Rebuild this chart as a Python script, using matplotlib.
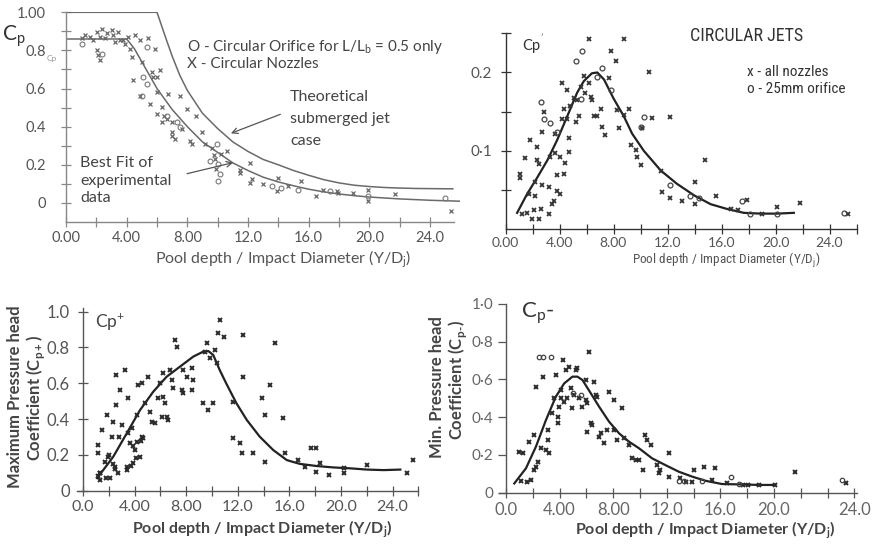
import matplotlib
matplotlib.use("Agg")
import matplotlib.pyplot as plt
from matplotlib import font_manager as fm
from matplotlib.ticker import FixedLocator, FixedFormatter

plt.rcParams['font.family'] = ['Lato', 'DejaVu Sans']
plt.rcParams['mathtext.fontset'] = 'custom'
plt.rcParams['mathtext.rm'] = 'Lato'

_available = {f.name for f in fm.fontManager.ttflist}
NARROW = next((n for n in ['Liberation Sans Narrow', 'Roboto Condensed'] if n in _available), 'Roboto')

W, H = 876, 548

# ---------------- Panel 1: mean pressure coefficient Cp ----------------
theory_x = [0, 6.0, 6.3, 6.6, 7.0, 7.5, 8, 9, 10, 11, 12, 13, 14, 15, 16, 17, 18, 19, 20,
            21, 22, 23, 24, 25.5]
theory_y = [1.0, 1.0, 0.93, 0.86, 0.77, 0.67, 0.59, 0.47, 0.39, 0.32, 0.27, 0.228, 0.2,
            0.17, 0.145, 0.122, 0.105, 0.093, 0.086, 0.081, 0.078, 0.076, 0.075, 0.074]
bestfit_x = [0, 4.0, 4.5, 5, 5.5, 6, 7, 8, 9, 10, 11, 12, 13, 14, 15, 16, 17, 18, 19, 20,
             22, 24, 26]
bestfit_y = [0.86, 0.86, 0.81, 0.74, 0.67, 0.60, 0.49, 0.40, 0.32, 0.265, 0.21, 0.17, 0.135,
             0.11, 0.09, 0.072, 0.058, 0.047, 0.038, 0.031, 0.021, 0.014, 0.009]
cp_nozzle_x = [1.03, 1.25, 1.58, 1.80, 2.02, 2.24, 2.35, 2.57, 2.68, 3.01,
               3.12, 3.23, 3.45, 3.56, 3.78, 3.89, 4.11, 4.22, 4.33, 4.55,
               4.88, 5.43, 5.87, 2.02, 2.13, 2.24,
               4.44, 4.88, 4.99, 5.65, 5.76, 6.0, 6.2, 5.54, 5.98, 6.75,
               7.5, 5.98, 6.3, 6.45, 6.31, 6.64, 6.97, 7.96, 8.6, 6.97,
               7.0, 7.19, 7.63, 8.2, 8.3, 8.95, 9.16, 9.6, 9.75, 9.85,
               10.2, 10.6, 9.9, 11.47, 11.47, 12.13, 12.13, 12.25, 13.0, 14.0,
               13.9, 14.66, 15.5, 16.5, 16.97, 17.85, 17.9, 18.9, 19.9, 19.9,
               21.7, 25.4]
cp_nozzle_y = [0.863, 0.88, 0.871, 0.854, 0.898, 0.871, 0.915, 0.863, 0.889, 0.907,
               0.88, 0.845, 0.898, 0.854, 0.854, 0.836, 0.871, 0.81, 0.766, 0.88,
               0.854, 0.863, 0.81, 0.80, 0.775, 0.748,
               0.643, 0.563, 0.74, 0.687, 0.66, 0.66, 0.695, 0.519, 0.581, 0.572,
               0.563, 0.466, 0.502, 0.458, 0.423, 0.44, 0.423, 0.493, 0.458, 0.37,
               0.352, 0.335, 0.387, 0.326, 0.31, 0.37, 0.308, 0.29, 0.25, 0.23,
               0.255, 0.273, 0.18, 0.158, 0.175, 0.211, 0.106, 0.125, 0.10, 0.132,
               0.062, 0.088, 0.114, 0.035, 0.07, 0.062, 0.05, 0.053, 0.07, 0.009,
               0.048, -0.04]
cp_orifice_x = [1.03, 2.35, 5.32, 4.99, 5.32, 6.64, 7.3, 7.5, 9.93, 10.04, 10.15, 10.04,
                13.56, 14.2, 15.3, 17.4, 19.9, 25.0, 9.5, 5.1]
cp_orifice_y = [0.836, 0.783, 0.82, 0.563, 0.625, 0.458, 0.423, 0.40, 0.308, 0.202, 0.15,
                0.114, 0.088, 0.079, 0.07, 0.06, 0.035, 0.026, 0.22, 0.66]

# ---------------- Panel 2: fluctuating coefficient Cp' ----------------
cpf_curve_x = [0.86, 1.6, 2.35, 3.1, 3.83, 4.57, 5.3, 5.8, 6.4, 6.8, 7.3, 8.0, 8.77, 9.38,
               10.25, 11.5, 12.7, 14.0, 15.2, 16.4, 17.65, 18.9, 20.1, 21.36]
cpf_curve_y = [0.021, 0.045, 0.066, 0.088, 0.114, 0.144, 0.174, 0.189, 0.199, 0.2, 0.191,
               0.167, 0.144, 0.122, 0.10, 0.075, 0.058, 0.043, 0.032, 0.026, 0.021, 0.02,
               0.02, 0.021]
cpf_nozzle_x = [1.11, 1.11, 1.23, 1.48, 1.6, 1.73, 1.85, 1.98, 2.1, 2.22,
                2.22, 2.35, 2.35, 2.47, 2.47, 2.6, 2.72, 2.72, 2.84, 3.2,
                3.2, 3.33, 3.46, 3.58, 3.7, 3.7, 3.83, 3.83, 4.07, 4.07,
                4.2, 4.2, 4.32, 4.32, 4.44, 4.57, 4.57, 4.69, 4.69, 4.81,
                5.06, 5.19, 5.3, 5.43, 5.56, 5.8, 5.9, 6.17, 6.17, 6.3,
                6.4, 6.54, 6.8, 7.04, 7.16, 7.4, 7.65, 7.78, 8.15, 8.27,
                8.4, 8.77, 8.77, 9.14, 9.26, 9.63, 9.75, 10.0, 10.1, 10.6,
                10.86, 11.5, 11.6, 12.2, 12.2, 13.1, 14.0, 14.07, 14.8, 15.6,
                16.7, 17.2, 17.9, 19.0, 20.1, 21.85, 25.4]
cpf_nozzle_y = [0.071, 0.065, 0.019, 0.091, 0.021, 0.045, 0.114, 0.013, 0.024, 0.043,
                0.06, 0.105, 0.088, 0.083, 0.013, 0.026, 0.056, 0.124, 0.15, 0.054,
                0.019, 0.092, 0.032, 0.036, 0.122, 0.097, 0.069, 0.049, 0.092, 0.045,
                0.141, 0.186, 0.154, 0.071, 0.084, 0.178, 0.141, 0.117, 0.099, 0.157,
                0.167, 0.137, 0.165, 0.144, 0.182, 0.195, 0.174, 0.186, 0.243, 0.169,
                0.165, 0.144, 0.144, 0.154, 0.131, 0.12, 0.193, 0.227, 0.215, 0.152,
                0.129, 0.243, 0.146, 0.154, 0.108, 0.101, 0.092, 0.082, 0.129, 0.2,
                0.142, 0.075, 0.047, 0.143, 0.04, 0.036, 0.032, 0.06, 0.088, 0.043,
                0.026, 0.024, 0.038, 0.02, 0.028, 0.034, 0.019]
cpf_orifice_x = [2.6, 2.84, 3.33, 3.83, 5.19, 5.68, 5.56, 6.8, 7.16, 7.78, 10.0, 10.25,
                 12.2, 13.7, 14.3, 17.5, 18.1, 20.1, 25.1]
cpf_orifice_y = [0.163, 0.141, 0.135, 0.124, 0.215, 0.228, 0.166, 0.194, 0.206, 0.178,
                 0.13, 0.143, 0.056, 0.042, 0.04, 0.036, 0.019, 0.019, 0.021]

# ---------------- Panel 3: maximum pressure head coefficient Cp+ ----------------
cpmax_curve_x = [1.1, 2.35, 3.39, 4.42, 5.45, 6.49, 7.52, 8.55, 9.33, 9.72, 10.1, 10.6,
                 11.1, 11.9, 12.7, 13.7, 14.75, 15.8, 16.8, 18.1, 19.4, 20.7, 22.0, 23.3,
                 24.6]
cpmax_curve_y = [0.07, 0.19, 0.32, 0.45, 0.553, 0.637, 0.693, 0.749, 0.777, 0.78, 0.758,
                 0.674, 0.6, 0.488, 0.395, 0.302, 0.227, 0.171, 0.15, 0.138, 0.13, 0.125,
                 0.118, 0.115, 0.118]
cpmax_x = [1.19, 1.19, 1.32, 1.32, 1.45, 1.7, 1.83, 1.96, 2.09, 2.22,
           2.35, 2.48, 2.6, 2.6, 2.74, 2.87, 3.0, 3.26, 3.38, 3.51,
           3.51, 3.64, 3.77, 3.9, 4.03, 4.16, 4.29, 4.42, 4.55, 4.68,
           4.8, 5.06, 5.2, 5.32, 5.58, 5.84, 5.97, 6.1, 6.23, 6.23,
           6.36, 6.49, 6.61, 6.74, 6.87, 7.0, 7.13, 7.26, 7.65, 7.78,
           7.78, 8.04, 8.42, 8.55, 8.42, 9.33, 9.46, 9.59, 9.72, 9.85,
           10.1, 10.2, 10.36, 10.5, 10.6, 10.9, 11.65, 11.65, 12.2, 12.3,
           12.4, 12.4, 13.2, 13.85, 14.1, 14.1, 14.5, 14.9, 15.5, 15.66,
           16.7, 17.2, 17.7, 18.1, 18.1, 18.4, 19.1, 20.2, 20.2, 22.0,
           25.1, 25.6,
           1.2, 1.3, 1.8, 2.0, 2.5, 3.4, 3.7, 4.1, 4.5, 4.6, 4.2, 3.9, 2.8, 2.3]
cpmax_y = [0.255, 0.209, 0.097, 0.06, 0.339, 0.162, 0.423, 0.19, 0.069, 0.302,
           0.385, 0.134, 0.646, 0.479, 0.097, 0.562, 0.367, 0.674, 0.115, 0.516,
           0.32, 0.264, 0.348, 0.153, 0.227, 0.423, 0.59, 0.19, 0.6, 0.292,
           0.488, 0.637, 0.441, 0.385, 0.376, 0.516, 0.6, 0.413, 0.655, 0.525,
           0.488, 0.413, 0.395, 0.674, 0.618, 0.572, 0.842, 0.805, 0.562, 0.544,
           0.674, 0.637, 0.683, 0.618, 0.562, 0.488, 0.776, 0.823, 0.45, 0.739,
           0.488, 0.786, 0.711, 0.879, 0.953, 0.86, 0.497, 0.292, 0.264, 0.209,
           0.87, 0.637, 0.209, 0.516, 0.423, 0.162, 0.59, 0.823, 0.404, 0.209,
           0.171, 0.134, 0.236, 0.236, 0.106, 0.153, 0.088, 0.125, 0.097, 0.143,
           0.097, 0.171,
           0.08, 0.1, 0.07, 0.2, 0.12, 0.13, 0.14, 0.18, 0.28, 0.3, 0.27, 0.25, 0.3, 0.15]

# ---------------- Panel 4: minimum pressure head coefficient Cp- ----------------
cpmin_curve_x = [0.62, 1.49, 2.23, 2.98, 3.72, 4.34, 4.96, 5.33, 5.71, 6.33, 6.95, 7.69,
                 8.44, 9.18, 9.93, 10.9, 11.9, 12.9, 13.9, 14.9, 16.1, 17.4, 18.9, 20.0]
cpmin_curve_y = [0.049, 0.129, 0.243, 0.384, 0.508, 0.578, 0.614, 0.614, 0.596, 0.526,
                 0.455, 0.376, 0.314, 0.27, 0.235, 0.182, 0.146, 0.111, 0.085, 0.063,
                 0.046, 0.044, 0.041, 0.041]
cpmin_x = [0.99, 1.24, 1.1, 1.6, 1.86, 1.74, 2.1, 2.23, 2.36, 2.1,
           2.23, 2.6, 2.73, 2.98, 3.23, 3.1, 3.1, 3.47, 3.6, 3.72,
           3.85, 3.85, 3.97, 4.09, 4.09, 4.22, 4.34, 4.47, 4.59, 4.71,
           4.84, 4.96, 5.09, 5.21, 5.33, 5.46, 5.71, 5.96, 5.96, 6.08,
           6.08, 6.2, 6.33, 6.45, 6.58, 6.7, 6.82, 6.95, 7.07, 7.32,
           7.57, 7.69, 8.06, 8.06, 8.31, 8.68, 8.81, 9.18, 9.43, 9.68,
           9.93, 10.2, 10.4, 10.5, 10.8, 11.3, 11.5, 11.4, 12.2, 12.2,
           13.0, 13.4, 13.9, 14.0, 14.8, 15.4, 15.6, 16.5, 17.7, 18.1,
           18.9, 20.1, 21.6, 25.4]
cpmin_y = [0.217, 0.208, 0.063, 0.058, 0.067, 0.27, 0.12, 0.138, 0.164, 0.305,
           0.561, 0.235, 0.614, 0.226, 0.208, 0.332, 0.279, 0.42, 0.499, 0.623,
           0.367, 0.402, 0.455, 0.499, 0.543, 0.702, 0.481, 0.649, 0.499, 0.667,
           0.552, 0.446, 0.517, 0.649, 0.658, 0.499, 0.455, 0.596, 0.49, 0.473,
           0.323, 0.746, 0.367, 0.358, 0.587, 0.517, 0.508, 0.296, 0.314, 0.261,
           0.332, 0.534, 0.49, 0.332, 0.279, 0.446, 0.287, 0.252, 0.182, 0.173,
           0.173, 0.12, 0.305, 0.279, 0.252, 0.146, 0.12, 0.102, 0.208, 0.085,
           0.076, 0.058, 0.058, 0.12, 0.138, 0.067, 0.129, 0.049, 0.041, 0.041,
           0.041, 0.041, 0.111, 0.049]
cpmin_o_x = [2.48, 2.73, 3.35, 5.58, 5.0, 12.9, 13.3, 14.6, 16.8, 17.4, 25.1]
cpmin_o_y = [0.72, 0.72, 0.72, 0.517, 0.53, 0.06, 0.06, 0.06, 0.085, 0.045, 0.067]

# ---------------- tick labels ----------------
p1_xticks = [0, 4, 8, 12, 16, 20, 24]
p1_xlabels = ['0.00', '4.00', '8.00', '12.0', '16.0', '20.0', '24.0']
p1_yticks = [0, 0.2, 0.4, 0.6, 0.8, 1.0]
p1_ylabels = ['0', '0.2', '0.4', '0.6', '0.8', '1.00']
p2_yticks = [0.05, 0.1, 0.15, 0.2, 0.25]
p2_ylabels = ['', '0·1', '', '0.2', '']
p3_xlabels = ['0.0', '4.00', '8.00', '12.0', '16.0', '20.0', '24.0']
p3_ylabels = ['0', '0.2', '0.4', '0.6', '0.8', '1.0']
p4_xticks = [0, 4, 8, 12, 16, 20, 26]
p4_xlabels = ['0.0', '4.00', '8.00', '12.0', '16.0', '20.0', '24.0']
p4_ylabels = ['0', '0·2', '0·4', '0·6', '0·8', '1·0']
xlabel_text = 'Pool depth / Impact Diameter (Y/D$_\\mathregular{j}$)'

fig = plt.figure(figsize=(W / 100, H / 100), dpi=100)
fig.patch.set_facecolor('white')


def add_axes_px(left, right, bottom, top):
    return fig.add_axes([left / W, 1 - bottom / H, (right - left) / W, (bottom - top) / H])


def ftext(x, y, s, **kw):
    return fig.text(x / W, 1 - y / H, s, **kw)


def style(ax, spine_color, tick_color):
    for side in ('top', 'right'):
        ax.spines[side].set_visible(False)
    for side in ('left', 'bottom'):
        ax.spines[side].set_color(spine_color)
        ax.spines[side].set_linewidth(1.0)
    ax.tick_params(which='both', direction='inout', color=tick_color, width=0.9)
    ax.tick_params(which='major', length=7)
    ax.tick_params(which='minor', length=7)
    ax.patch.set_alpha(0)


# ---- Panel 1 ----
ax1 = add_axes_px(66, 460.4, 222, 12.3)
style(ax1, '#888888', '#888888')
ax1.set_xlim(0, 26)
ax1.set_ylim(-0.1, 1.0)
ax1.spines['bottom'].set_bounds(0, 25.6)
ax1.plot(theory_x, theory_y, color='#6a6a6a', lw=1.1)
ax1.plot(bestfit_x, bestfit_y, color='#6a6a6a', lw=1.1)
ax1.plot(cp_nozzle_x, cp_nozzle_y, ls='none', marker='x', ms=3.5, mew=0.9, color='#666666')
ax1.plot(cp_orifice_x, cp_orifice_y, ls='none', marker='o', ms=3.5, mew=0.8, mfc='none',
         color='#777777')
ax1.xaxis.set_major_locator(FixedLocator(p1_xticks))
ax1.xaxis.set_major_formatter(FixedFormatter(p1_xlabels))
ax1.xaxis.set_minor_locator(FixedLocator([2, 6, 10, 14, 18, 22]))
ax1.yaxis.set_major_locator(FixedLocator(p1_yticks))
ax1.yaxis.set_major_formatter(FixedFormatter(p1_ylabels))
ax1.yaxis.set_minor_locator(FixedLocator([0.1, 0.3, 0.5, 0.7, 0.9]))
ax1.tick_params(axis='x', labelsize=10.5, labelcolor='#555555', pad=3)
ax1.tick_params(axis='y', labelsize=10.5, labelcolor='#555555', pad=11)
ax1.annotate('', xy=(10.7, 0.36), xytext=(14.3, 0.47),
             arrowprops=dict(arrowstyle='->', color='#555555', lw=0.9))
ax1.annotate('', xy=(11.2, 0.215), xytext=(7.8, 0.15),
             arrowprops=dict(arrowstyle='->', color='#555555', lw=0.9))

ftext(2, 36, 'C$_\\mathregular{p}$', fontsize=15, color='#333333', va='center')
ftext(47, 59, 'Cp', fontsize=6, color='#999999', va='center')
ftext(187, 47, 'O - Circular Orifice for L/L$_\\mathregular{b}$ = 0.5 only', fontsize=11,
      color='#444444', va='center')
ftext(187, 64, 'X - Circular Nozzles', fontsize=11, color='#444444', va='center')
for i, line in enumerate(['Theoretical', 'submerged jet', 'case']):
    ftext(290, 97 + 22 * i, line, fontsize=11.5, color='#444444', va='center')
for i, line in enumerate(['Best Fit of', 'experimental', 'data']):
    ftext(80, 163 + 17.5 * i, line, fontsize=11.5, color='#444444', va='center')
ftext(283, 259, xlabel_text, fontsize=11.5, color='#555555', ha='center', va='center')

# ---- Panel 2 ----
ax2 = add_axes_px(505.5, 856.5, 229.3, 33.3)
style(ax2, '#333333', '#333333')
ax2.set_xlim(0, 26)
ax2.set_ylim(0, 0.25)
ax2.plot(cpf_curve_x, cpf_curve_y, color='#222222', lw=1.6)
ax2.plot(cpf_nozzle_x, cpf_nozzle_y, ls='none', marker='x', ms=3, mew=1.3, color='#333333')
ax2.plot(cpf_orifice_x, cpf_orifice_y, ls='none', marker='o', ms=3.5, mew=0.9, mfc='none',
         color='#444444')
ax2.xaxis.set_major_locator(FixedLocator(p1_xticks))
ax2.xaxis.set_major_formatter(FixedFormatter(p1_xlabels))
ax2.xaxis.set_minor_locator(FixedLocator([2, 6, 10, 14, 18, 22, 26]))
ax2.yaxis.set_major_locator(FixedLocator(p2_yticks))
ax2.yaxis.set_major_formatter(FixedFormatter(p2_ylabels))
ax2.tick_params(axis='x', labelsize=10, labelcolor='#555555', pad=2)
ax2.tick_params(axis='y', labelsize=11, labelcolor='#555555', pad=6)
ftext(522, 44, "Cp$^{\\mathregular{'}}$", fontsize=10.5, color='#333333', va='center')
ftext(690, 36, 'CIRCULAR JETS', fontsize=15 if NARROW == 'Liberation Sans Narrow' else 13,
      family=[NARROW, 'DejaVu Sans'], color='#333333', va='center')
ftext(747, 72, 'x - all nozzles', fontsize=11, family=[NARROW, 'DejaVu Sans'],
      color='#333333', va='center')
ftext(747, 89, 'o - 25mm orifice', fontsize=11, family=[NARROW, 'DejaVu Sans'],
      color='#333333', va='center')
ftext(726, 260, xlabel_text, fontsize=9.5, family=[NARROW, 'DejaVu Sans'],
      color='#555555', ha='center', va='center')

# ---- Panel 3 ----
ax3 = add_axes_px(76.5, 418.4, 490.7, 308.1)
style(ax3, '#555555', '#555555')
ax3.set_xlim(-0.5, 26)
ax3.set_ylim(0, 1.02)
ax3.spines['left'].set_position(('data', 0))
ax3.plot(cpmax_curve_x, cpmax_curve_y, color='#222222', lw=1.6)
ax3.plot(cpmax_x, cpmax_y, ls='none', marker='x', ms=2.6, mew=1.4, color='#2a2a2a')
ax3.xaxis.set_major_locator(FixedLocator(p1_xticks))
ax3.xaxis.set_major_formatter(FixedFormatter(p3_xlabels))
ax3.xaxis.set_minor_locator(FixedLocator([2, 6, 10, 14, 18, 22, 26]))
ax3.yaxis.set_major_locator(FixedLocator(p1_yticks))
ax3.yaxis.set_major_formatter(FixedFormatter(p3_ylabels))
ax3.tick_params(axis='x', labelsize=11.5, labelcolor='#555555', pad=3)
ax3.tick_params(axis='y', labelsize=12, labelcolor='#555555', pad=6)
ftext(95, 322, 'Cp$^{\\mathregular{+}}$', fontsize=12.5, color='#444444', va='center')
ftext(15, 397, 'Maximum Pressure head', fontsize=12, weight='bold', color='#444444',
      rotation=90, ha='center', va='center')
ftext(36, 398, 'Coefficient (C$_{\\mathregular{p+}}$)', fontsize=12, weight='bold',
      color='#444444', rotation=90, ha='center', va='center')
ftext(262, 529, xlabel_text, fontsize=11.5, weight='bold', color='#444444',
      ha='center', va='center')

# ---- Panel 4 ----
ax4 = add_axes_px(499.3, 857, 492.7, 303.7)
style(ax4, '#555555', '#555555')
ax4.set_xlim(-0.5, 26.2)
ax4.set_ylim(0, 1.0)
ax4.spines['left'].set_position(('data', 0))
ax4.plot(cpmin_curve_x, cpmin_curve_y, color='#222222', lw=1.6)
ax4.plot(cpmin_x, cpmin_y, ls='none', marker='x', ms=2.6, mew=1.4, color='#2a2a2a')
ax4.plot(cpmin_o_x, cpmin_o_y, ls='none', marker='o', ms=3.2, mew=0.9, mfc='none',
         color='#444444')
ax4.xaxis.set_major_locator(FixedLocator(p4_xticks))
ax4.xaxis.set_major_formatter(FixedFormatter(p4_xlabels))
ax4.xaxis.set_minor_locator(FixedLocator([2, 6, 10, 14, 18, 22, 24]))
ax4.yaxis.set_major_locator(FixedLocator(p1_yticks))
ax4.yaxis.set_major_formatter(FixedFormatter(p4_ylabels))
ax4.tick_params(axis='x', labelsize=12, labelcolor='#666666', pad=3)
ax4.tick_params(axis='y', labelsize=11, labelcolor='#666666', pad=3)
ax4.tick_params(axis='y', direction='out', length=6)
ftext(521, 313, 'C$_\\mathregular{p}$-', fontsize=16, color='#333333', va='center')
ftext(437, 387, 'Min. Pressure head', fontsize=12, weight='bold', color='#444444',
      rotation=90, ha='center', va='center')
ftext(458, 380, 'Coefficient (C$_{\\mathregular{p}}$$_{\\mathregular{\u2010}}$)', fontsize=12,
      weight='bold', color='#444444', rotation=90, ha='center', va='center')
ftext(705, 530, xlabel_text, fontsize=11.5, weight='bold', color='#444444',
      ha='center', va='center')

fig.savefig('out.png', dpi=100, facecolor='white')
